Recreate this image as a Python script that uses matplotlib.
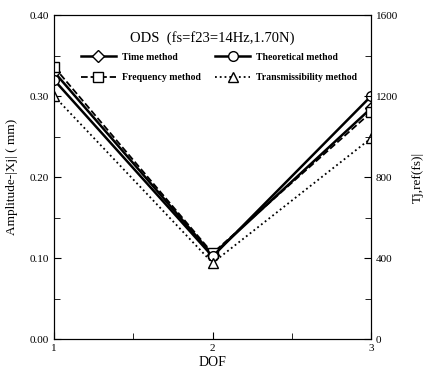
import matplotlib
matplotlib.use('Agg')
import matplotlib.pyplot as plt
from matplotlib.ticker import MultipleLocator

plt.rcParams['font.family'] = 'Liberation Serif'

dof = [1, 2, 3]
time_method = [0.330, 0.104, 0.285]
theoretical = [0.320, 0.102, 0.300]
frequency = [0.336, 0.106, 0.280]
transmissibility = [0.300, 0.094, 0.248]

fig = plt.figure(figsize=(4.29, 3.78), dpi=100)
ax = fig.add_axes([0.126, 0.103, 0.739, 0.857])

ax.plot(dof, time_method, '-', color='black', linewidth=1.8, marker='D', markersize=6,
        markerfacecolor='white', markeredgecolor='black', label='Time method')
ax.plot(dof, frequency, '--', color='black', linewidth=1.3, marker='s', markersize=7,
        markerfacecolor='white', markeredgecolor='black', label='Frequency method')
ax.plot(dof, theoretical, '-', color='black', linewidth=1.8, marker='o', markersize=7,
        markerfacecolor='white', markeredgecolor='black', label='Theoretical method')
ax.plot(dof, transmissibility, ':', color='black', linewidth=1.3, marker='^', markersize=7,
        markerfacecolor='white', markeredgecolor='black', label='Transmissibility method')

ax.set_xlim(1, 3)
ax.set_ylim(0, 0.4)
ax.set_xticks([1, 2, 3])
ax.xaxis.set_minor_locator(MultipleLocator(0.5))
ax.set_yticks([0.0, 0.1, 0.2, 0.3, 0.4])
ax.set_yticklabels(['0.00', '0.10', '0.20', '0.30', '0.40'])
ax.yaxis.set_minor_locator(MultipleLocator(0.05))
ax.tick_params(which='both', direction='in', labelsize=8)
ax.tick_params(which='major', length=5)
ax.tick_params(which='minor', length=4)
ax.set_xlabel('DOF', fontsize=10, labelpad=2)
ax.set_ylabel('Amplitude-|Xj| ( mm)', fontsize=9.5)
ax.yaxis.set_label_coords(-0.115, 0.5)

ax2 = ax.twinx()
ax2.set_ylim(0, 1600)
ax2.set_yticks([0, 400, 800, 1200, 1600])
ax2.yaxis.set_minor_locator(MultipleLocator(200))
ax2.tick_params(which='both', direction='in', labelsize=8)
ax2.tick_params(which='major', length=5)
ax2.tick_params(which='minor', length=4)
ax2.set_ylabel('Tj,ref(fs)|', fontsize=9.5)
ax2.yaxis.set_label_coords(1.13, 0.5)

ax.text(0.5, 0.93, 'ODS  (fs=f23=14Hz,1.70N)', transform=ax.transAxes,
        ha='center', va='center', fontsize=10.5)
ax.legend(loc='upper center', bbox_to_anchor=(0.52, 0.905), ncol=2, frameon=False,
          prop={'size': 7, 'weight': 'bold'}, handlelength=3.6, columnspacing=1.5,
          handletextpad=0.6, labelspacing=1.2, borderpad=0.2)

fig.savefig('out.png', dpi=100)
